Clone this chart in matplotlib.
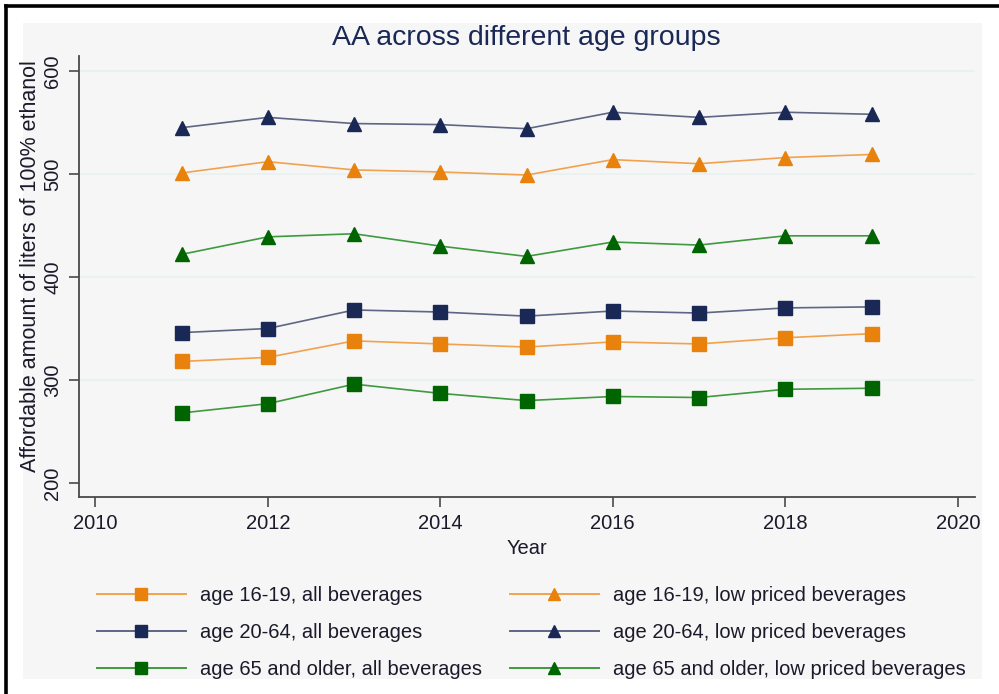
import matplotlib.pyplot as plt
from matplotlib.lines import Line2D
from matplotlib.patches import Rectangle

plt.rcParams["font.family"] = ["Liberation Sans", "DejaVu Sans"]

years = [2011, 2012, 2013, 2014, 2015, 2016, 2017, 2018, 2019]

# all beverages
all_16_19 = [318, 322, 338, 335, 332, 337, 335, 341, 345]
all_20_64 = [346, 350, 368, 366, 362, 367, 365, 370, 371]
all_65 = [268, 277, 296, 287, 280, 284, 283, 291, 292]

# low priced beverages
low_16_19 = [501, 512, 504, 502, 499, 514, 510, 516, 519]
low_20_64 = [545, 555, 549, 548, 544, 560, 555, 560, 558]
low_65 = [422, 439, 442, 430, 420, 434, 431, 440, 440]

series = [
    ("age 16-19, all beverages", all_16_19, "s", "#E8820C", "#F2A24E"),
    ("age 20-64, all beverages", all_20_64, "s", "#1A2856", "#5E6684"),
    ("age 65 and older, all beverages", all_65, "s", "#006400", "#3E9A3E"),
    ("age 16-19, low priced beverages", low_16_19, "^", "#E8820C", "#F2A24E"),
    ("age 20-64, low priced beverages", low_20_64, "^", "#1A2856", "#5E6684"),
    ("age 65 and older, low priced beverages", low_65, "^", "#006400", "#3E9A3E"),
]

W, H = 999, 694
fig = plt.figure(figsize=(W / 100, H / 100), dpi=100)

# grey panel and black frame
fig.patches.append(Rectangle((23 / W, 1 - 679 / H), (982 - 23) / W, (679 - 23) / H,
                             transform=fig.transFigure, facecolor="#F6F6F6",
                             edgecolor="none", zorder=-5))
fig.add_artist(Line2D([6 / W, 6 / W], [0, 1 - 6 / H], transform=fig.transFigure,
                      color="black", lw=2.6))
fig.add_artist(Line2D([6 / W, 998 / W], [1 - 6 / H, 1 - 6 / H], transform=fig.transFigure,
                      color="black", lw=2.6))

ax = fig.add_axes([79 / W, 1 - 497 / H, (975 - 79) / W, (497 - 56) / H])
ax.set_zorder(2)
ax.set_facecolor("#F6F6F6")

# faint horizontal grid lines (none at the bottom tick)
for gy in [300, 400, 500, 600]:
    ax.axhline(gy, color="#E8F1F1", lw=1.2, zorder=0)

handles = []
for label, vals, mk, mcol, lcol in series:
    ax.plot(years, vals, color=lcol, lw=1.2, zorder=2)
    ax.plot(years, vals, linestyle="none", marker=mk, ms=10, color=mcol,
            markeredgecolor=mcol, zorder=3)
    handles.append(Line2D([], [], color=lcol, lw=1.4, marker=mk, ms=8,
                          markerfacecolor=mcol, markeredgecolor=mcol, label=label))

ax.set_xlim(2009.81, 2020.2)
ax.set_ylim(186.4, 614.6)
ax.set_xticks([2010, 2012, 2014, 2016, 2018, 2020])
ax.set_yticks([200, 300, 400, 500, 600])

for side in ["top", "right"]:
    ax.spines[side].set_visible(False)
for side in ["left", "bottom"]:
    ax.spines[side].set_color("#4A4A4A")
    ax.spines[side].set_linewidth(1.3)

ax.tick_params(axis="both", length=7, width=1.2, color="#4A4A4A",
               labelsize=14.5, labelcolor="#1A1A2A")
ax.tick_params(axis="y", pad=5)
ax.tick_params(axis="x", pad=5)
for t in ax.get_yticklabels():
    t.set_rotation(90)
    t.set_va("center")

ax.set_ylabel("Affordable amount of liters of 100% ethanol", fontsize=15.5,
              color="#1A1A2A", va="center")
ax.yaxis.set_label_coords(-0.054, 0.524)
ax.set_xlabel("Year", fontsize=14.5, color="#1A1A2A", va="center")
ax.xaxis.set_label_coords(0.5, -0.116)

fig.text(526 / W, 1 - 38 / H, "AA across different age groups", fontsize=20.5,
         color="#1A2856", ha="center", va="center")

fig.legend(handles=handles, ncol=2, loc="upper left",
           bbox_to_anchor=(97 / W, 1 - 586 / H), frameon=False, fontsize=14.5,
           handlelength=4.4, handletextpad=0.7, columnspacing=1.4,
           labelspacing=0.9, borderpad=0, borderaxespad=0, labelcolor="#1A1A2A")

fig.savefig("out.png", dpi=100, facecolor="white")
